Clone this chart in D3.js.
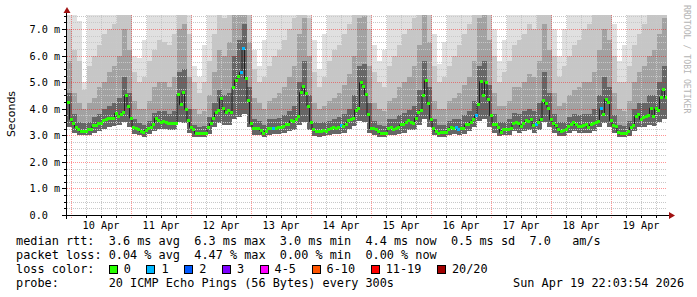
<!DOCTYPE html>
<html>
<head>
<meta charset="utf-8">
<title>Smokeping latency, last 10 days</title>
<script src="https://d3js.org/d3.v7.min.js"></script>
<style>
    body { margin: 0; background: #fff; }
    svg { display: block; }
    text { font-family: "DejaVu Sans Mono", monospace; fill: #000; white-space: pre; }
</style>
</head>
<body>
<div id="chart"></div>
<script>
// hourly median rtt (ms), first hour starts at t0
var median = [
    4.25, 3.6, 3.45, 3.3, 3.2, 3.15, 3.14, 3.14, 3.2, 3.22,
    3.35, 3.38, 3.45, 3.45, 3.55, 3.58, 3.63, 3.64, 3.64, 3.82,
    3.7, 3.77, 3.87, 4.49, 4.08, 3.65, 3.3, 3.26, 3.22, 3.14,
    3.1, 3.18, 3.26, 3.3, 3.4, 3.64, 3.55, 3.5, 3.53, 3.5,
    3.45, 3.43, 3.43, 3.43, 4.55, 4.15, 4.61, 3.98, 3.55, 3.3,
    3.2, 3.07, 3.05, 3.05, 3.05, 3.08, 3.28, 3.45, 3.64, 3.85,
    3.92, 4.39, 3.99, 3.86, 3.92, 3.87, 4.8, 5.07, 5.2, 5.37,
    6.25, 5.14, 4.3, 3.43, 3.24, 3.24, 3.24, 3.18, 3.05, 3.15,
    3.24, 3.24, 3.26, 3.26, 3.29, 3.3, 3.33, 3.39, 3.41, 3.54,
    3.51, 3.58, 3.7, 4.61, 4.83, 4.56, 4.1, 3.49, 3.2, 3.16,
    3.14, 3.14, 3.18, 3.16, 3.23, 3.26, 3.3, 3.26, 3.29, 3.35,
    3.33, 3.41, 3.54, 3.58, 3.64, 3.95, 4.02, 4.99, 4.83, 4.52,
    3.77, 3.24, 3.24, 3.22, 3.14, 3.07, 3.05, 3.05, 3.26, 3.29,
    3.23, 3.26, 3.3, 3.39, 3.39, 3.48, 3.54, 3.49, 3.45, 3.64,
    3.85, 3.93, 4.48, 5.05, 4.18, 3.6, 3.26, 3.16, 3.07, 3.1,
    3.1, 3.1, 3.2, 3.3, 3.26, 3.3, 3.2, 3.24, 3.26, 3.39,
    3.41, 3.5, 3.58, 3.73, 4.17, 5.02, 4.48, 4.99, 4.33, 3.73,
    3.41, 3.39, 3.3, 3.1, 3.2, 3.2, 3.23, 3.24, 3.45, 3.48,
    3.45, 3.33, 3.45, 3.54, 3.51, 3.58, 3.35, 3.39, 3.48, 3.6,
    4.3, 4.18, 4.02, 3.58, 3.45, 3.35, 3.23, 3.14, 3.18, 3.23,
    3.33, 3.39, 3.49, 3.39, 3.33, 3.33, 3.36, 3.39, 3.29, 3.39,
    3.45, 3.49, 3.51, 3.99, 3.8, 4.35, 4.24, 3.55, 3.36, 3.33,
    3.1, 3.05, 3.05, 3.07, 3.14, 3.3, 3.35, 3.7, 3.79, 3.6,
    3.68, 3.7, 3.73, 4.02, 3.7, 3.99, 3.95, 4.43, 4.74, 4.43
];

// hours where pings were lost, and how many of 20
var lossHour = [69, 70, 82, 109, 155, 156, 163, 187, 213];
var lossCount = [1, 1, 1, 1, 1, 1, 1, 1, 1];

// smoke, one column per 2 hours: lowest ping, then top of dark, mid, light and lightest band
var smokeLo = [
    3.3, 3.1, 3.0, 3.0, 3.0, 3.1, 3.15, 3.25, 3.3, 3.35,
    3.4, 3.5, 3.3, 3.05, 3.0, 2.95, 3.05, 3.15, 3.25, 3.25,
    3.2, 3.2, 3.5, 3.45, 3.1, 2.95, 2.92, 2.93, 3.05, 3.3,
    3.45, 3.4, 3.4, 3.6, 3.7, 3.8, 3.3, 3.0, 3.0, 2.93,
    3.0, 3.05, 3.05, 3.1, 3.15, 3.2, 3.4, 3.5, 3.2, 2.98,
    2.95, 2.97, 3.0, 3.05, 3.05, 3.1, 3.25, 3.35, 3.55, 3.5,
    3.1, 3.0, 2.93, 2.92, 3.02, 3.0, 3.05, 3.1, 3.2, 3.2,
    3.4, 3.6, 3.3, 3.0, 2.93, 2.95, 3.0, 3.03, 3.0, 3.05,
    3.15, 3.3, 3.55, 3.6, 3.3, 3.1, 2.97, 3.0, 3.0, 3.15,
    3.1, 3.15, 3.2, 3.1, 3.2, 3.5, 3.3, 3.1, 2.97, 2.98,
    3.08, 3.15, 3.1, 3.1, 3.08, 3.15, 3.3, 3.45, 3.3, 3.08,
    2.93, 2.93, 2.98, 3.15, 3.3, 3.3, 3.4, 3.35, 3.5, 3.6
];
var smokeDark = [
    4.6, 3.8, 3.5, 3.45, 3.5, 3.7, 3.8, 4.0, 4.1, 4.2,
    4.4, 5.2, 4.6, 3.6, 3.45, 3.4, 3.55, 3.85, 3.9, 3.9,
    3.8, 3.9, 5.4, 5.5, 4.0, 3.4, 3.3, 3.35, 3.7, 4.2,
    4.7, 4.5, 4.6, 6.0, 6.6, 7.2, 4.8, 3.6, 3.55, 3.4,
    3.6, 3.6, 3.65, 3.75, 3.9, 4.1, 5.0, 5.8, 4.5, 3.5,
    3.45, 3.5, 3.55, 3.6, 3.7, 3.8, 4.0, 4.5, 5.6, 5.7,
    4.2, 3.55, 3.4, 3.35, 3.6, 3.6, 3.75, 3.85, 3.95, 4.1,
    4.7, 5.8, 4.8, 3.6, 3.4, 3.4, 3.55, 3.6, 3.6, 3.75,
    3.9, 4.3, 5.6, 5.8, 4.9, 3.8, 3.5, 3.5, 3.6, 3.85,
    3.8, 3.9, 4.0, 3.9, 4.2, 5.4, 4.6, 3.8, 3.5, 3.5,
    3.7, 3.8, 3.75, 3.8, 3.8, 4.0, 4.5, 5.2, 4.8, 3.75,
    3.4, 3.35, 3.55, 4.0, 4.2, 4.2, 4.5, 4.5, 5.0, 5.6
];
var smokeMid = [
    5.8, 4.6, 4.2, 4.0, 4.2, 4.4, 4.8, 5.0, 5.4, 5.6,
    6.0, 7.0, 6.2, 4.3, 4.0, 4.0, 4.3, 4.8, 5.0, 5.0,
    4.8, 5.2, 7.0, 7.2, 5.2, 4.0, 3.8, 3.9, 4.5, 5.4,
    6.2, 6.0, 6.5, 8, 8, 8, 6.5, 4.4, 4.2, 4.0,
    4.3, 4.4, 4.6, 4.8, 5.2, 5.6, 6.8, 7.4, 6.0, 4.2,
    4.0, 4.1, 4.3, 4.4, 4.6, 4.9, 5.3, 6.0, 7.4, 7.5,
    5.6, 4.2, 4.0, 3.9, 4.3, 4.4, 4.8, 5.0, 5.2, 5.6,
    6.4, 7.6, 6.5, 4.3, 4.0, 4.0, 4.3, 4.4, 4.6, 4.9,
    5.2, 5.8, 7.4, 7.6, 6.6, 4.6, 4.1, 4.1, 4.3, 4.8,
    4.8, 5.0, 5.3, 5.2, 5.8, 7.2, 6.2, 4.6, 4.1, 4.2,
    4.5, 4.7, 4.8, 5.0, 5.0, 5.4, 6.2, 7.0, 6.6, 4.6,
    4.0, 3.9, 4.3, 5.0, 5.4, 5.6, 6.0, 6.2, 6.8, 7.4
];
var smokeLight = [
    7.0, 6.2, 5.8, 4.7, 5.6, 6.0, 6.4, 6.8, 7.0, 7.2,
    8, 8, 8, 5.4, 5.0, 5.2, 5.8, 6.2, 6.6, 6.5,
    6.4, 6.8, 8, 8, 6.8, 5.0, 4.6, 5.0, 5.8, 6.8,
    8, 7.4, 8, 8, 8, 8, 8, 5.5, 5.0, 5.2,
    5.6, 6.0, 6.2, 6.6, 7.0, 7.4, 8, 8, 7.4, 5.4,
    4.8, 5.2, 5.8, 6.2, 6.4, 6.8, 7.2, 8, 8, 8,
    7.0, 5.4, 5.0, 4.8, 5.6, 6.0, 6.4, 6.8, 7.0, 7.4,
    8, 8, 8, 5.6, 5.0, 5.2, 5.6, 6.0, 6.4, 6.8,
    7.2, 8, 8, 8, 8, 6.0, 5.0, 5.4, 5.8, 6.4,
    6.6, 6.8, 7.2, 7.0, 8, 8, 8, 6.0, 5.2, 5.6,
    6.0, 6.4, 6.6, 7.0, 7.2, 7.6, 8, 8, 8, 6.0,
    5.0, 5.0, 5.6, 6.4, 6.8, 7.2, 8, 8, 8, 8
];
var smokeMax = [
    8, 8, 7.3, 5.0, 8, 8, 8, 8, 8, 8,
    8, 8, 8, 6.0, 5.9, 6.6, 8, 8, 8, 8,
    8, 8, 8, 8, 8, 5.6, 5.2, 6.4, 8, 8,
    8, 8, 8, 8, 8, 8, 8, 6.2, 5.6, 6.6,
    8, 8, 8, 8, 8, 8, 8, 8, 8, 6.6,
    5.5, 6.8, 8, 8, 8, 8, 8, 8, 8, 8,
    8, 6.4, 5.8, 6.2, 8, 8, 8, 8, 8, 8,
    8, 8, 8, 6.8, 5.7, 6.5, 8, 8, 8, 8,
    8, 8, 8, 8, 8, 7.0, 5.8, 6.6, 8, 8,
    8, 8, 8, 8, 8, 8, 8, 7.0, 6.0, 7.0,
    8, 8, 8, 8, 8, 8, 8, 8, 8, 7.2,
    5.8, 6.4, 8, 8, 8, 8, 8, 8, 8, 8
];

var dayLabels = ["10 Apr", "11 Apr", "12 Apr", "13 Apr", "14 Apr", "15 Apr", "16 Apr", "17 Apr", "18 Apr", "19 Apr"];
var yTicks = [0, 1, 2, 3, 4, 5, 6, 7];
var yLabels = ["0.0", "1.0 m", "2.0 m", "3.0 m", "4.0 m", "5.0 m", "6.0 m", "7.0 m"];

var lossLabels = ["0", "1", "2", "3", "4-5", "6-10", "11-19", "20/20"];
var lossColors = ["#26ff00", "#00b8ff", "#0059ff", "#7e00ff", "#ff00ff", "#ff5500", "#ff0000", "#a10000"];
var rttStats = ["3.6", "6.3", "3.0", "4.4", "0.5"];
var lossStats = ["0.04", "4.47", "0.00", "0.00"];
var amsValue = "7.0";
var probeText = "20 ICMP Echo Pings (56 Bytes) every 300s";
var stampText = "Sun Apr 19 22:03:54 2026";

var width = 697, height = 297;
var HOUR = 3600e3;
var t0 = Date.UTC(2026, 3, 9, 22, 24);
var t1 = t0 + 240 * HOUR;

var svg = d3.select("#chart").append("svg")
            .attr("width", width)
            .attr("height", height);

var x = d3.scaleUtc().domain([t0, t1]).range([67, 667]);
var y = d3.scaleLinear().domain([0, 7.527]).range([215, 15]);

svg.append("clipPath").attr("id", "plot")
   .append("rect").attr("x", 67).attr("y", 15).attr("width", 600).attr("height", 200);

// smoke
var bands = [
    { lo: smokeLo, hi: smokeDark, color: "#666666" },
    { lo: smokeDark, hi: smokeMid, color: "#a2a2a2" },
    { lo: smokeMid, hi: smokeLight, color: "#c6c6c6" },
    { lo: smokeLight, hi: smokeMax, color: "#e0e0e0" }
];
var smoke = svg.append("g").attr("clip-path", "url(#plot)").attr("shape-rendering", "crispEdges");
bands.forEach(function(b) {
    smoke.selectAll(null).data(b.lo).enter().append("rect")
         .attr("x", function(d, i) { return x(t0 + i * 2 * HOUR); })
         .attr("width", function(d, i) { return x(t0 + (i + 1) * 2 * HOUR) - x(t0 + i * 2 * HOUR); })
         .attr("y", function(d, i) { return y(b.hi[i]); })
         .attr("height", function(d, i) { return Math.max(0, y(d) - y(b.hi[i])); })
         .attr("fill", b.color);
});

// grid
var grid = svg.append("g").attr("shape-rendering", "crispEdges");
var minorY = d3.range(0.25, 7.527, 0.25).filter(function(v) { return Math.abs(v - Math.round(v)) > 0.01; });
grid.selectAll(null).data(minorY).enter().append("line")
    .attr("x1", 67).attr("x2", 667)
    .attr("y1", function(d) { return Math.round(y(d)) + 0.5; })
    .attr("y2", function(d) { return Math.round(y(d)) + 0.5; })
    .attr("stroke", "#c8c8c8").attr("stroke-dasharray", "1,1");
var days = d3.utcDay.range(t0, t1);
var minorX = d3.utcHour.every(6).range(t0, t1).filter(function(d) { return d.getUTCHours() !== 0; });
grid.selectAll(null).data(minorX).enter().append("line")
    .attr("y1", 15).attr("y2", 215)
    .attr("x1", function(d) { return Math.round(x(d)) + 0.5; })
    .attr("x2", function(d) { return Math.round(x(d)) + 0.5; })
    .attr("stroke", "#c8c8c8").attr("stroke-dasharray", "1,1");
grid.selectAll(null).data(yTicks.slice(1)).enter().append("line")
    .attr("x1", 67).attr("x2", 667)
    .attr("y1", function(d) { return Math.round(y(d)) + 0.5; })
    .attr("y2", function(d) { return Math.round(y(d)) + 0.5; })
    .attr("stroke", "rgba(255,0,0,0.42)").attr("stroke-dasharray", "1,1");
grid.selectAll(null).data(days).enter().append("line")
    .attr("y1", 15).attr("y2", 219)
    .attr("x1", function(d) { return Math.round(x(d)) + 0.5; })
    .attr("x2", function(d) { return Math.round(x(d)) + 0.5; })
    .attr("stroke", "rgba(255,0,0,0.42)").attr("stroke-dasharray", "1,1");

// median line
var plot = svg.append("g").attr("clip-path", "url(#plot)");
var steps = median.map(function(v, i) { return { t: t0 + i * HOUR, v: v }; });
steps.push({ t: t1, v: median[median.length - 1] });
plot.append("path")
    .attr("d", d3.line().curve(d3.curveStepAfter)
                 .x(function(d) { return x(d.t); })
                 .y(function(d) { return y(d.v); })(steps))
    .attr("fill", "none").attr("stroke", "#202020").attr("stroke-width", 1);
plot.selectAll(null).data(median).enter().append("rect")
    .attr("shape-rendering", "crispEdges")
    .attr("x", function(d, i) { return x(t0 + i * HOUR); })
    .attr("width", function(d, i) { return x(t0 + (i + 1) * HOUR) - x(t0 + i * HOUR) + 0.5; })
    .attr("y", function(d) { return y(d) - 1.5; })
    .attr("height", 3)
    .attr("fill", function(d, i) {
        var k = lossHour.indexOf(i);
        return k < 0 ? lossColors[0] : lossColors[lossCount[k]];
    });

// axes
var axes = svg.append("g").attr("shape-rendering", "crispEdges").attr("stroke", "#000");
axes.append("line").attr("x1", 62).attr("x2", 670).attr("y1", 215.5).attr("y2", 215.5);
axes.append("line").attr("x1", 66.5).attr("x2", 66.5).attr("y1", 219).attr("y2", 11);
axes.selectAll(null).data(minorY).enter().append("line")
    .attr("x1", 64).attr("x2", 67)
    .attr("y1", function(d) { return Math.round(y(d)) + 0.5; })
    .attr("y2", function(d) { return Math.round(y(d)) + 0.5; });
axes.selectAll(null).data(yTicks).enter().append("line")
    .attr("x1", 62).attr("x2", 67)
    .attr("y1", function(d) { return Math.round(y(d)) + 0.5; })
    .attr("y2", function(d) { return Math.round(y(d)) + 0.5; });
axes.selectAll(null).data(minorX).enter().append("line")
    .attr("y1", 215).attr("y2", 218)
    .attr("x1", function(d) { return Math.round(x(d)) + 0.5; })
    .attr("x2", function(d) { return Math.round(x(d)) + 0.5; });

svg.append("path").attr("d", "M63.5,13 L70.5,13 L67,7 Z").attr("fill", "#a01010");
svg.append("path").attr("d", "M669,212 L669,219 L675,215.5 Z").attr("fill", "#a01010");

// tick labels
svg.selectAll(null).data(yTicks).enter().append("text")
   .attr("x", 29.5)
   .attr("y", function(d) { return y(d) + 4; })
   .attr("font-size", "10.2px")
   .text(function(d, i) { return yLabels[i]; });
svg.selectAll(null).data(days).enter().append("text")
   .attr("x", function(d) { return x(d3.utcHour.offset(d, 12)); })
   .attr("y", 228.5)
   .attr("text-anchor", "middle")
   .attr("font-size", "10.2px")
   .text(function(d, i) { return dayLabels[i]; });

svg.append("text")
   .attr("transform", "translate(14.5,114) rotate(-90)")
   .attr("text-anchor", "middle")
   .style("font-family", "'DejaVu Sans', sans-serif")
   .attr("font-size", "11px")
   .text("Seconds");

svg.append("text")
   .attr("transform", "translate(684,5) rotate(90)")
   .attr("font-size", "8.2px")
   .style("fill", "#b4b4b4")
   .text("RRDTOOL / TOBI OETIKER");

// legend
var cw = 7.13;
var legendFont = "11.85px";
var rows = [
    "median rtt:  " + rttStats[0] + " ms avg  " + rttStats[1] + " ms max  " + rttStats[2] + " ms min  " +
        rttStats[3] + " ms now  " + rttStats[4] + " ms sd  " + amsValue + "   am/s",
    "packet loss: " + lossStats[0] + " % avg  " + lossStats[1] + " % max  " + lossStats[2] + " % min  " +
        lossStats[3] + " % now",
    "loss color:",
    "probe:       " + probeText
];
svg.selectAll(null).data(rows).enter().append("text")
   .attr("x", 16)
   .attr("y", function(d, i) { return 244.8 + i * 14; })
   .attr("font-size", legendFont)
   .text(function(d) { return d; });

var bx = 16 + 13 * cw;
lossLabels.forEach(function(lab, i) {
    svg.append("rect")
       .attr("x", Math.round(bx) + 0.5).attr("y", 265.5)
       .attr("width", 8).attr("height", 8)
       .attr("fill", lossColors[i]).attr("stroke", "#000")
       .attr("shape-rendering", "crispEdges");
    svg.append("text")
       .attr("x", bx + 15).attr("y", 272.8)
       .attr("font-size", legendFont)
       .text(lab);
    bx += 15 + lab.length * cw + 15.6;
});

svg.append("text")
   .attr("x", 513).attr("y", 286.8)
   .attr("font-size", legendFont)
   .text(stampText);
</script>
</body>
</html>
